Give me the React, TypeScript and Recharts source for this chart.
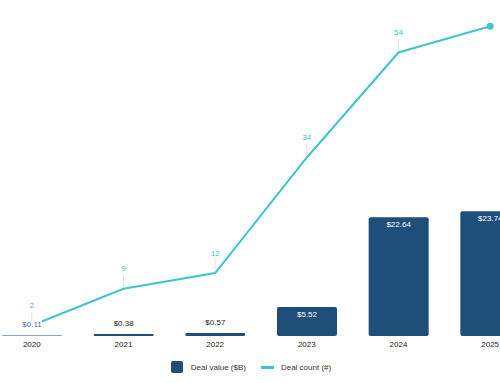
import React from 'react';
import { ComposedChart, Bar, Line, XAxis, YAxis, LabelList, Legend } from 'recharts';

const years = ['2020', '2021', '2022', '2023', '2024', '2025'];
const dealValue = [0.11, 0.38, 0.57, 5.52, 22.64, 23.74];
const dealCount = [2, 9, 12, 34, 54, 59];

const data = years.map((year, i) => ({ year, value: dealValue[i], count: dealCount[i] }));

const BAR = '#1f4e7a';
const TEAL = '#40c4ca';
const FONT = '"Liberation Sans", Arial, Helvetica, sans-serif';

const CountLabel = (props: any) => {
  const { x, y, value, index } = props;
  if (index === years.length - 1) return null;
  return (
    <g>
      <line x1={x} y1={y - 2} x2={x} y2={y - 14} stroke="#e2e2e2" strokeWidth={1} />
      <text x={x} y={y - 20} textAnchor="middle" dominantBaseline="central" fill={TEAL} fontSize={8} fontFamily={FONT}>
        {value}
      </text>
    </g>
  );
};

const ValueLabel = (props: any) => {
  const { x, y, width, value, index } = props;
  const cx = x + width / 2;
  const txt = `$${Number(value).toFixed(2)}`;
  if (value >= 5) {
    return (
      <text x={cx} y={y + 7} textAnchor="middle" dominantBaseline="central" fill="#ffffff" fontSize={8} fontFamily={FONT}>
        {txt}
      </text>
    );
  }
  return (
    <g>
      <rect x={cx - 10} y={y - 15} width={20} height={9} fill="#ffffff" />
      <text x={cx} y={y - 11} textAnchor="middle" dominantBaseline="central" fill={index === 0 ? '#4a6fa3' : '#222222'} fontSize={8} fontFamily={FONT}>
        {txt}
      </text>
    </g>
  );
};

const LastDot = (props: any) => {
  const { cx, cy, index } = props;
  if (index !== years.length - 1) return <g key={`d${index}`} />;
  return <circle key={`d${index}`} cx={cx} cy={cy} r={3.5} fill={TEAL} />;
};

const LegendBox = () => (
  <div style={{ height: 27, display: 'flex', justifyContent: 'center', alignItems: 'center', fontFamily: FONT, fontSize: 8, color: '#333', paddingBottom: 5, boxSizing: 'border-box' }}>
    <span style={{ display: 'inline-block', width: 12, height: 12, background: BAR, borderRadius: 2, marginRight: 8 }} />
    <span style={{ marginRight: 15 }}>Deal value ($B)</span>
    <span style={{ display: 'inline-block', width: 13, height: 3, background: TEAL, marginRight: 7 }} />
    <span>Deal count (#)</span>
  </div>
);

export default function App() {
  return (
    <div style={{ position: 'fixed', left: 0, top: 0, width: 500, height: 383, overflow: 'hidden', background: '#fff' }}>
      <div style={{ position: 'absolute', left: -14.5, top: 0 }}>
        <ComposedChart width={550} height={383} data={data} margin={{ top: 21, right: 0, bottom: 0, left: 0 }}>
          <XAxis
            dataKey="year"
            axisLine={false}
            tickLine={false}
            tickSize={0}
            tickMargin={5}
            height={20}
            tick={{ fill: '#222', fontSize: 8, fontFamily: FONT }}
          />
          <YAxis yAxisId="left" hide domain={[0, 60]} />
          <YAxis yAxisId="right" orientation="right" hide domain={[0, 60]} />
          <Legend verticalAlign="bottom" content={LegendBox} wrapperStyle={{ left: 0, width: 531, bottom: 0 }} />
          <Line
            yAxisId="right"
            type="linear"
            dataKey="count"
            name="Deal count (#)"
            stroke={TEAL}
            strokeWidth={2}
            dot={LastDot}
            activeDot={false}
            isAnimationActive={false}
          >
            <LabelList dataKey="count" content={CountLabel} />
          </Line>
          <Bar
            yAxisId="left"
            dataKey="value"
            name="Deal value ($B)"
            fill={BAR}
            barSize={60}
            radius={[2, 2, 2, 2]}
            isAnimationActive={false}
          >
            <LabelList dataKey="value" content={ValueLabel} />
          </Bar>
        </ComposedChart>
      </div>
    </div>
  );
}
